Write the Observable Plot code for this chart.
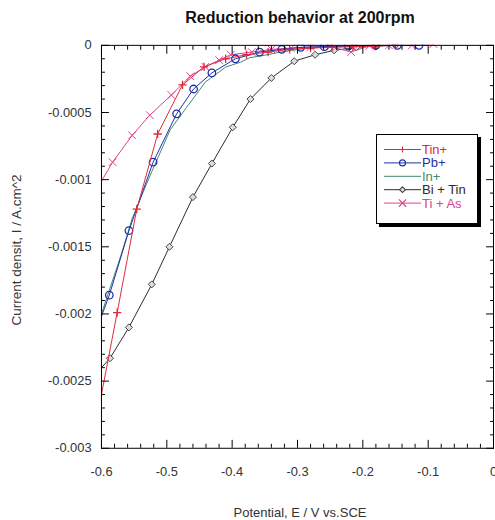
<!DOCTYPE html>
<html><head><meta charset="utf-8">
<script src="https://cdn.jsdelivr.net/npm/d3@7"></script>
<script src="https://cdn.jsdelivr.net/npm/@observablehq/plot@0.6"></script>
<style>
html,body{margin:0;padding:0;overflow:hidden;background:#fff;}
#wrap{position:relative;width:495px;height:520px;overflow:hidden;font-family:"Liberation Sans",Arial,sans-serif;}
#title{position:absolute;left:100px;width:400px;top:9px;line-height:18px;text-align:center;font-weight:bold;font-size:16px;color:#111;}
#xlabel{position:absolute;left:100px;width:400px;top:505px;line-height:16px;text-align:center;font-size:13px;color:#333;}
#ylabel{position:absolute;left:17px;top:250px;transform:translate(-50%,-50%) rotate(-90deg);white-space:nowrap;font-size:13.5px;color:#333;line-height:16px;}
#chart{position:absolute;left:0;top:30px;}
#legend{position:absolute;left:0;top:0;}
</style></head>
<body>
<div id="wrap">
  <div id="title">Reduction behavior at 200rpm</div>
  <div id="ylabel">Current densit, I / A.cm^2</div>
  <div id="xlabel">Potential, E / V vs.SCE</div>
  <div id="chart"></div>
</div>
<script>
// ---- data ----
const seriesNames = ["Tin+", "Pb+", "In+", "Bi + Tin", "Ti + As"];
const seriesColors = ["#e0283c", "#1f2fa8", "#3f8a6c", "#2a2a2a", "#e0408c"];

const tinX = [-0.606, -0.576, -0.546, -0.514, -0.476, -0.443, -0.41, -0.378, -0.345, -0.312, -0.28, -0.247, -0.215, -0.182, -0.15];
const tinY = [-0.00275, -0.00199, -0.00122, -0.00066, -0.000295, -0.00016, -0.0001, -0.00007, -0.00005, -0.00003, -0.00002, -0.000015, -0.00001, -0.000005, 0];

const pbX = [-0.62, -0.588, -0.558, -0.521, -0.485, -0.459, -0.431, -0.395, -0.358, -0.324, -0.295, -0.259, -0.222, -0.18, -0.147, -0.114];
const pbY = [-0.00228, -0.00186, -0.00138, -0.00087, -0.00051, -0.000325, -0.000205, -0.0001, -0.00005, -0.00003, -0.000015, -0.00001, -0.000005, 0, 0, 0];

const inX = [-0.6, -0.57, -0.553, -0.536, -0.523, -0.513, -0.495, -0.470, -0.452, -0.441, -0.422, -0.41, -0.387, -0.373, -0.351, -0.319, -0.286, -0.25, -0.2, -0.15, -0.1];
const inY = [-0.002, -0.00156, -0.00129, -0.00109, -0.00094, -0.00083, -0.00063, -0.000464, -0.000346, -0.000273, -0.000206, -0.000162, -0.000125, -0.000092, -0.000074, -0.000044, -0.000022, -0.00001, -0.000003, 0, 0];

const biX = [-0.615, -0.587, -0.558, -0.523, -0.496, -0.46, -0.431, -0.399, -0.372, -0.34, -0.305, -0.273, -0.244, -0.21, -0.18, -0.15];
const biY = [-0.00248, -0.00233, -0.0021, -0.00178, -0.0015, -0.00113, -0.00088, -0.00061, -0.0004, -0.000243, -0.000118, -0.00007, -0.000037, -0.000015, -0.000005, 0];

const tiX = [-0.613, -0.583, -0.553, -0.526, -0.493, -0.464, -0.441, -0.420, -0.402, -0.37, -0.34, -0.31, -0.28, -0.25, -0.218, -0.19, -0.16, -0.125, -0.092];
const tiY = [-0.00112, -0.00087, -0.00067, -0.00052, -0.00037, -0.00023, -0.00016, -0.00011, -0.00007, -0.00005, -0.00003, -0.00002, -0.000012, -0.000008, -0.00005, -0.000003, 0, 0, 0.00001];

const xMajor = [-0.6, -0.5, -0.4, -0.3, -0.2, -0.1, 0];
const xMinor = [-0.58, -0.56, -0.54, -0.52, -0.48, -0.46, -0.44, -0.42, -0.38, -0.36, -0.34, -0.32, -0.28, -0.26, -0.24, -0.22, -0.18, -0.16, -0.14, -0.12, -0.08, -0.06, -0.04, -0.02];
const yMajor = [0, -0.0005, -0.001, -0.0015, -0.002, -0.0025, -0.003];
const yMinor = [-0.0001, -0.0002, -0.0003, -0.0004, -0.0006, -0.0007, -0.0008, -0.0009, -0.0011, -0.0012, -0.0013, -0.0014, -0.0016, -0.0017, -0.0018, -0.0019, -0.0021, -0.0022, -0.0023, -0.0024, -0.0026, -0.0027, -0.0028, -0.0029];

// ---- build ----
const zip = (xs, ys) => xs.map((x, i) => ({x, y: ys[i]}));
const tin = zip(tinX, tinY), pb = zip(pbX, pbY), inn = zip(inX, inY), bi = zip(biX, biY), ti = zip(tiX, tiY);
const C = seriesColors;

const chart = Plot.plot({
  width: 500,
  height: 490,
  marginLeft: 102,
  marginRight: 2,
  marginTop: 15,
  marginBottom: 68,
  style: {fontSize: "13px", fontFamily: "'Liberation Sans', Arial, sans-serif", background: "transparent", overflow: "visible"},
  x: {domain: [-0.6, 0]},
  y: {domain: [-0.003, 0]},
  marks: [
    Plot.line(inn, {x: "x", y: "y", stroke: C[2], strokeWidth: 1, clip: true}),
    Plot.line(bi, {x: "x", y: "y", stroke: C[3], strokeWidth: 1, clip: true}),
    Plot.dot(bi, {x: "x", y: "y", symbol: "diamond2", r: 3.2, stroke: "#444", fill: "#ddd", strokeWidth: 1, clip: true}),
    Plot.line(ti, {x: "x", y: "y", stroke: C[4], strokeWidth: 1, clip: true}),
    Plot.dot(ti, {x: "x", y: "y", symbol: "times", r: 3.6, stroke: C[4], strokeWidth: 1, clip: true}),
    Plot.line(pb, {x: "x", y: "y", stroke: C[1], strokeWidth: 1, clip: true}),
    Plot.dot(pb, {x: "x", y: "y", symbol: "circle", r: 3.8, stroke: C[1], fill: "none", strokeWidth: 1.3, clip: true}),
    Plot.line(tin, {x: "x", y: "y", stroke: C[0], strokeWidth: 1, clip: true}),
    Plot.dot(tin, {x: "x", y: "y", symbol: "plus", r: 2.8, stroke: C[0], strokeWidth: 1.3, clip: true}),
    Plot.frame({stroke: "#000"}),
    Plot.axisX({anchor: "bottom", ticks: xMajor, tickSize: -8, tickPadding: 27, tickFormat: d => String(d), label: null, stroke: "#000", fill: "#333"}),
    Plot.axisX({anchor: "bottom", ticks: xMinor, tickSize: -4, tickFormat: () => "", label: null, stroke: "#000"}),
    Plot.axisX({anchor: "top", ticks: xMajor, tickSize: -8, tickFormat: () => "", label: null, stroke: "#000"}),
    Plot.axisX({anchor: "top", ticks: xMinor, tickSize: -4, tickFormat: () => "", label: null, stroke: "#000"}),
    Plot.axisY({anchor: "left", ticks: yMajor, tickSize: -8, tickPadding: 18, tickFormat: d => String(d), label: null, stroke: "#000", fill: "#333"}),
    Plot.axisY({anchor: "left", ticks: yMinor, tickSize: -4, tickFormat: () => "", label: null, stroke: "#000"}),
    Plot.axisY({anchor: "right", ticks: yMajor, tickSize: -8, tickFormat: () => "", label: null, stroke: "#000"}),
    Plot.axisY({anchor: "right", ticks: yMinor, tickSize: -4, tickFormat: () => "", label: null, stroke: "#000"})
  ]
});
document.getElementById("chart").appendChild(chart);

// ---- legend ----
const markerSymbols = [d3.symbolPlus, d3.symbolCircle, null, d3.symbolDiamond2, d3.symbolTimes];
const markerSizes = [14, 3 * 3 * Math.PI, 0, 2.6 * 2.6 * Math.PI, 3.4 * 3.4 * Math.PI];
const lg = d3.select("#wrap").append("svg").attr("id", "legend").attr("width", 495).attr("height", 520);
lg.append("rect").attr("x", 379).attr("y", 137).attr("width", 102).attr("height", 90).attr("fill", "#000");
lg.append("rect").attr("x", 376.5).attr("y", 134.5).attr("width", 101).attr("height", 89).attr("fill", "#fff").attr("stroke", "#000");
seriesNames.forEach((name, i) => {
  const yy = 149.5 + i * 13.4;
  const g = lg.append("g");
  g.append("line").attr("x1", 384).attr("x2", 421).attr("y1", yy).attr("y2", yy).attr("stroke", C[i]).attr("stroke-width", 1);
  if (markerSymbols[i]) {
    g.append("path").attr("d", d3.symbol(markerSymbols[i], markerSizes[i])())
      .attr("transform", `translate(402.5,${yy})`)
      .attr("fill", i === 3 ? "#ddd" : "none").attr("stroke", i === 3 ? "#444" : C[i]).attr("stroke-width", 1.1);
  }
  g.append("text").attr("x", 422).attr("y", yy).attr("dy", "0.35em")
    .attr("font-size", 13).attr("font-family", "'Liberation Sans', Arial, sans-serif")
    .attr("fill", C[i]).text(name);
});
</script>
</body></html>
